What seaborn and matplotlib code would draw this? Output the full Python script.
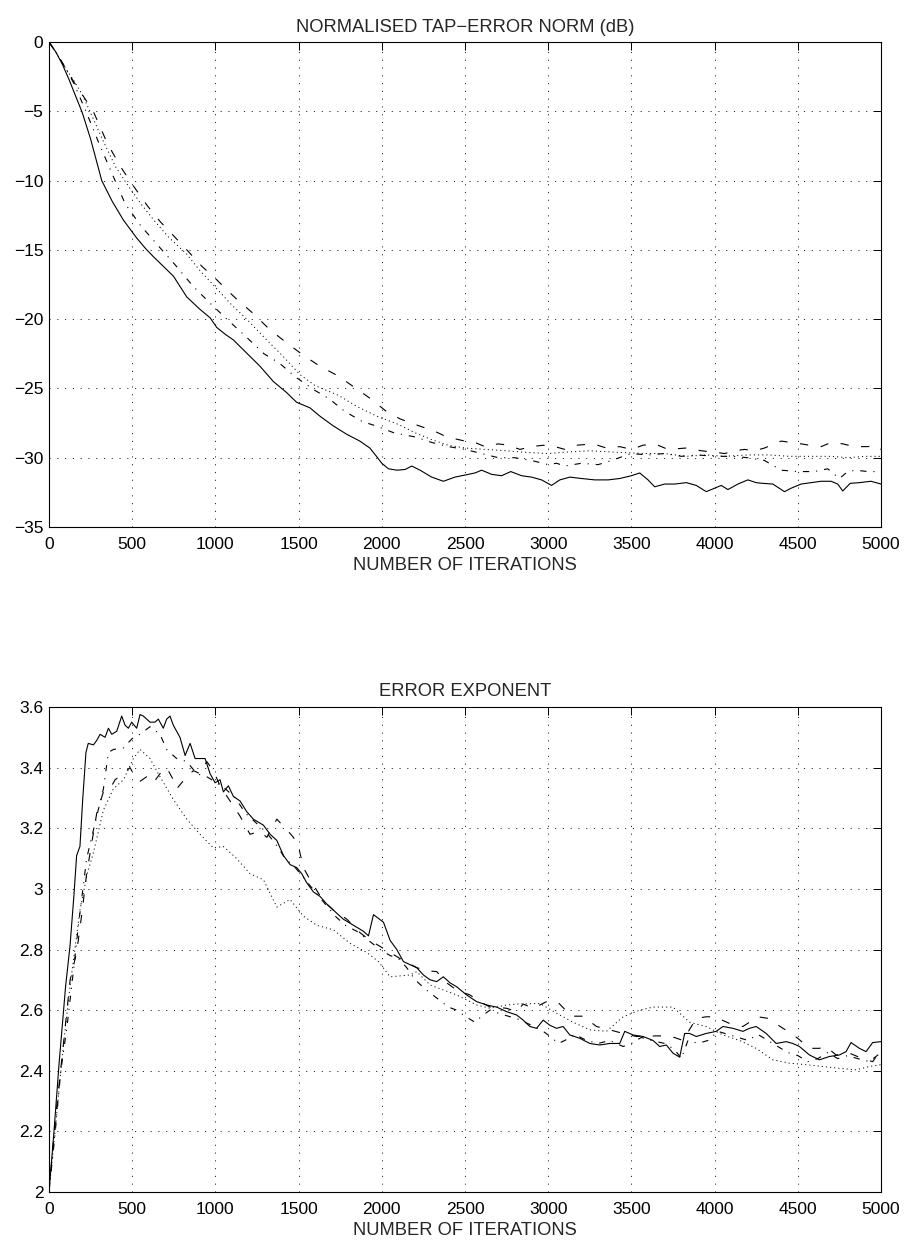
import matplotlib
matplotlib.use("Agg")
import matplotlib.pyplot as plt
import seaborn as sns
import pandas as pd

# ---- Normalised tap-error norm (dB) ----
tap_solid_it = [0, 40, 80, 120, 160, 200, 250, 317, 380, 447, 528, 580, 628, 688, 748, 828, 908, 968,
                1008, 1060, 1108, 1188, 1268, 1348, 1428, 1488, 1568, 1628, 1708, 1788, 1868, 1928, 1968,
                2000, 2040, 2090, 2140, 2180, 2230, 2300, 2370, 2440, 2500, 2560, 2600, 2660, 2720, 2775,
                2840, 2900, 2960, 3020, 3070, 3130, 3200, 3280, 3360, 3430, 3500, 3550, 3600, 3640, 3700,
                3760, 3830, 3890, 3950, 4000, 4040, 4080, 4140, 4200, 4250, 4290, 4350, 4420, 4460, 4520,
                4580, 4640, 4700, 4740, 4770, 4815, 4870, 4940, 5000]
tap_solid_db = [0, -0.7, -1.6, -2.7, -3.9, -5.1, -7.0, -10.0, -11.5, -12.85, -14.16, -14.9, -15.5, -16.2,
                -16.9, -18.4, -19.3, -19.9, -20.6, -21.1, -21.5, -22.45, -23.4, -24.5, -25.3, -26.0, -26.4,
                -27.0, -27.7, -28.3, -28.8, -29.3, -29.9, -30.4, -30.8, -30.9, -30.85, -30.6, -30.9, -31.4,
                -31.7, -31.4, -31.25, -31.1, -30.9, -31.2, -31.3, -31.0, -31.3, -31.4, -31.6, -32.0, -31.6,
                -31.4, -31.5, -31.6, -31.6, -31.5, -31.3, -31.1, -31.6, -32.1, -31.9, -31.9, -31.8, -32.0,
                -32.45, -32.2, -32.0, -32.3, -31.9, -31.6, -31.8, -31.85, -31.9, -32.45, -32.2, -31.9, -31.8,
                -31.7, -31.7, -31.9, -32.4, -31.85, -31.8, -31.7, -31.9]

tap_dashdot_it = [0, 50, 100, 150, 222, 300, 397, 458, 552, 652, 758, 864, 968, 1078, 1178, 1292, 1384,
                  1484, 1598, 1684, 1778, 1884, 1964, 2072, 2200, 2300, 2400, 2500, 2600, 2700, 2800, 2900,
                  3000, 3050, 3100, 3200, 3300, 3380, 3450, 3500, 3600, 3700, 3800, 3900, 4000, 4100, 4200,
                  4300, 4400, 4500, 4600, 4680, 4750, 4800, 4850, 4920, 5000]
tap_dashdot_db = [0, -0.9, -1.9, -3.0, -5.0, -7.3, -10.0, -11.68, -13.27, -14.64, -16.08, -17.6, -18.85,
                  -20.1, -21.2, -22.5, -23.17, -24.2, -25.14, -25.75, -26.66, -27.4, -27.7, -28.2, -28.5,
                  -28.9, -29.2, -29.4, -29.7, -30.0, -30.0, -30.2, -30.5, -30.4, -30.6, -30.4, -30.5, -30.2,
                  -29.9, -29.7, -29.8, -29.7, -29.9, -29.8, -29.9, -29.9, -30.0, -30.2, -30.9, -31.0, -31.0,
                  -30.8, -31.5, -31.0, -30.9, -31.0, -31.0]

tap_dotted_it = [0, 50, 100, 150, 200, 246, 320, 400, 477, 560, 640, 720, 827, 900, 1000, 1100, 1188, 1300,
                 1400, 1508, 1600, 1740, 1850, 1970, 2100, 2200, 2300, 2400, 2500, 2620, 2750, 2850, 3000,
                 3100, 3250, 3400, 3590, 3700, 3830, 3950, 4060, 4200, 4330, 4450, 4570, 4700, 4800, 4900,
                 5000]
tap_dotted_db = [0, -0.9, -1.9, -2.8, -3.8, -5.0, -7.0, -9.0, -10.4, -11.8, -13.0, -14.1, -15.3, -16.4,
                 -17.7, -19.0, -20.0, -21.4, -22.6, -24.0, -24.8, -25.5, -26.3, -27.0, -27.6, -28.2, -28.7,
                 -29.1, -29.3, -29.4, -29.5, -29.6, -29.7, -29.6, -29.5, -29.6, -29.7, -29.7, -29.9, -29.8,
                 -29.9, -29.8, -29.8, -29.9, -29.9, -29.9, -30.0, -29.9, -29.9]

tap_dashed_it = [0, 50, 100, 150, 200, 266, 350, 430, 508, 590, 668, 750, 828, 920, 1008, 1070, 1128, 1228,
                 1328, 1438, 1528, 1628, 1738, 1828, 1928, 2028, 2110, 2200, 2320, 2390, 2500, 2560, 2620,
                 2700, 2760, 2830, 2900, 2970, 3040, 3100, 3170, 3270, 3350, 3430, 3500, 3570, 3640, 3720,
                 3830, 3920, 4000, 4060, 4120, 4180, 4240, 4300, 4360, 4400, 4460, 4520, 4570, 4640, 4700,
                 4770, 4840, 4920, 4970, 5000]
tap_dashed_db = [0, -0.9, -1.9, -2.9, -3.8, -5.0, -7.3, -9.0, -10.4, -11.8, -12.96, -14.0, -15.0, -16.2,
                 -17.16, -17.9, -18.56, -19.6, -20.77, -21.8, -22.6, -23.4, -24.1, -24.86, -25.7, -26.66,
                 -27.2, -27.6, -28.1, -28.5, -28.8, -28.9, -29.2, -29.0, -29.1, -29.4, -29.2, -29.1, -29.2,
                 -29.4, -29.1, -29.0, -29.3, -29.2, -29.4, -29.1, -29.0, -29.4, -29.3, -29.5, -29.6, -29.7,
                 -29.5, -29.4, -29.5, -29.3, -29.0, -28.8, -28.9, -29.0, -29.1, -29.2, -28.9, -29.0, -29.2,
                 -29.2, -29.1, -29.4]

# ---- Error exponent ----
exp_solid_it = [0, 30, 60, 100, 126, 150, 166, 186, 202, 222, 236, 267, 287, 307, 337, 357, 377, 407, 437,
                457, 477, 497, 527, 547, 567, 607, 637, 657, 687, 707, 727, 747, 787, 818, 848, 878, 908,
                938, 968, 998, 1028, 1048, 1078, 1108, 1148, 1188, 1228, 1289, 1329, 1369, 1409, 1449, 1489,
                1519, 1549, 1589, 1629, 1669, 1709, 1769, 1830, 1890, 1920, 1950, 2010, 2050, 2090, 2130,
                2170, 2210, 2250, 2290, 2330, 2370, 2410, 2450, 2510, 2570, 2630, 2690, 2750, 2810, 2850,
                2890, 2930, 2970, 3010, 3050, 3090, 3130, 3190, 3250, 3310, 3370, 3430, 3460, 3510, 3570,
                3630, 3670, 3710, 3750, 3790, 3820, 3850, 3890, 3950, 4010, 4050, 4110, 4170, 4210, 4250,
                4310, 4370, 4430, 4470, 4510, 4570, 4630, 4690, 4750, 4790, 4820, 4870, 4910, 4950, 5000]
exp_solid_val = [2.0, 2.2, 2.42, 2.68, 2.81, 2.98, 3.11, 3.14, 3.29, 3.45, 3.48, 3.475, 3.49, 3.51, 3.50,
                 3.53, 3.51, 3.52, 3.57, 3.54, 3.53, 3.55, 3.53, 3.575, 3.57, 3.55, 3.55, 3.56, 3.53, 3.56,
                 3.57, 3.54, 3.50, 3.44, 3.48, 3.43, 3.43, 3.43, 3.38, 3.35, 3.36, 3.32, 3.34, 3.305, 3.29,
                 3.255, 3.23, 3.21, 3.18, 3.16, 3.11, 3.08, 3.07, 3.05, 3.02, 2.99, 2.975, 2.95, 2.93, 2.90,
                 2.88, 2.86, 2.845, 2.915, 2.89, 2.83, 2.80, 2.76, 2.75, 2.74, 2.716, 2.70, 2.694, 2.71,
                 2.69, 2.677, 2.65, 2.628, 2.617, 2.61, 2.595, 2.584, 2.567, 2.546, 2.54, 2.567, 2.55, 2.54,
                 2.546, 2.518, 2.507, 2.49, 2.485, 2.49, 2.49, 2.53, 2.518, 2.513, 2.50, 2.48, 2.485, 2.458,
                 2.445, 2.523, 2.523, 2.513, 2.523, 2.53, 2.546, 2.54, 2.53, 2.54, 2.546, 2.523, 2.49, 2.496,
                 2.49, 2.48, 2.452, 2.436, 2.447, 2.452, 2.463, 2.493, 2.474, 2.463, 2.493, 2.496]

exp_dashdot_it = [0, 36, 71, 107, 147, 177, 226, 287, 327, 357, 387, 447, 507, 547, 607, 667, 707, 767, 828,
                  888, 948, 1008, 1060, 1120, 1180, 1240, 1300, 1360, 1420, 1480, 1540, 1600, 1660, 1720,
                  1780, 1850, 1920, 1990, 2050, 2100, 2150, 2200, 2260, 2330, 2400, 2450, 2500, 2560, 2600,
                  2650, 2700, 2760, 2820, 2900, 2970, 3020, 3060, 3100, 3160, 3230, 3300, 3370, 3450, 3500,
                  3560, 3620, 3700, 3760, 3800, 3840, 3900, 3960, 4020, 4080, 4140, 4200, 4260, 4320, 4380,
                  4440, 4500, 4560, 4620, 4680, 4740, 4800, 4860, 4930, 5000]
exp_dashdot_val = [2.0, 2.19, 2.40, 2.54, 2.73, 2.88, 3.10, 3.24, 3.33, 3.45, 3.46, 3.465, 3.50, 3.51,
                   3.535, 3.51, 3.46, 3.43, 3.42, 3.38, 3.37, 3.35, 3.33, 3.30, 3.25, 3.22, 3.19, 3.15,
                   3.10, 3.07, 3.03, 2.99, 2.95, 2.91, 2.88, 2.86, 2.83, 2.80, 2.78, 2.77, 2.74, 2.70, 2.67,
                   2.64, 2.61, 2.60, 2.58, 2.56, 2.58, 2.60, 2.59, 2.58, 2.57, 2.55, 2.53, 2.51, 2.49, 2.50,
                   2.52, 2.50, 2.49, 2.50, 2.48, 2.49, 2.51, 2.50, 2.49, 2.47, 2.44, 2.50, 2.49, 2.50, 2.53,
                   2.52, 2.51, 2.50, 2.52, 2.50, 2.48, 2.46, 2.45, 2.43, 2.44, 2.46, 2.44, 2.45, 2.44, 2.43,
                   2.46]

exp_dotted_it = [0, 40, 80, 120, 160, 186, 230, 267, 327, 387, 447, 507, 547, 607, 667, 747, 828, 908, 988,
                 1048, 1128, 1208, 1289, 1369, 1449, 1529, 1609, 1709, 1810, 1910, 1980, 2050, 2170, 2210,
                 2290, 2450, 2570, 2650, 2750, 2810, 2950, 3050, 3150, 3250, 3350, 3450, 3550, 3630, 3750,
                 3850, 3950, 4050, 4150, 4250, 4350, 4450, 4550, 4650, 4750, 4850, 4930, 5000]
exp_dotted_val = [2.0, 2.22, 2.45, 2.65, 2.82, 2.93, 3.05, 3.12, 3.26, 3.33, 3.36, 3.43, 3.46, 3.43, 3.37,
                  3.295, 3.23, 3.18, 3.135, 3.14, 3.10, 3.05, 3.03, 2.94, 2.965, 2.91, 2.88, 2.865, 2.82,
                  2.79, 2.76, 2.71, 2.716, 2.727, 2.683, 2.65, 2.617, 2.606, 2.617, 2.62, 2.622, 2.59, 2.56,
                  2.535, 2.53, 2.578, 2.60, 2.61, 2.61, 2.56, 2.546, 2.518, 2.50, 2.474, 2.436, 2.425, 2.42,
                  2.414, 2.408, 2.403, 2.414, 2.42]

exp_dashed_it = [0, 42, 87, 127, 166, 198, 226, 287, 327, 367, 397, 447, 487, 507, 547, 587, 627, 667, 707,
                 747, 767, 828, 868, 908, 948, 988, 1028, 1088, 1148, 1208, 1268, 1309, 1369, 1429, 1469,
                 1499, 1529, 1559, 1609, 1649, 1709, 1790, 1870, 1930, 1990, 2050, 2110, 2210, 2270, 2330,
                 2390, 2450, 2530, 2590, 2650, 2690, 2750, 2810, 2850, 2910, 2990, 3060, 3140, 3210, 3290,
                 3370, 3450, 3530, 3650, 3730, 3810, 3890, 3950, 4000, 4090, 4170, 4260, 4320, 4380, 4440,
                 4500, 4570, 4630, 4670, 4730, 4810, 4890, 4950, 5000]
exp_dashed_val = [2.0, 2.26, 2.49, 2.70, 2.79, 2.92, 3.05, 3.25, 3.32, 3.33, 3.36, 3.38, 3.40, 3.38, 3.355,
                  3.37, 3.35, 3.38, 3.40, 3.36, 3.33, 3.37, 3.39, 3.38, 3.42, 3.39, 3.34, 3.29, 3.24, 3.18,
                  3.19, 3.17, 3.23, 3.195, 3.17, 3.14, 3.07, 3.04, 2.995, 2.96, 2.93, 2.90, 2.855, 2.83,
                  2.81, 2.79, 2.77, 2.74, 2.73, 2.727, 2.69, 2.666, 2.65, 2.628, 2.61, 2.61, 2.606, 2.595,
                  2.62, 2.606, 2.628, 2.625, 2.58, 2.58, 2.546, 2.535, 2.523, 2.513, 2.515, 2.515, 2.50,
                  2.573, 2.578, 2.578, 2.556, 2.546, 2.578, 2.573, 2.551, 2.53, 2.507, 2.474, 2.474, 2.48,
                  2.452, 2.458, 2.44, 2.43, 2.469]

x_ticks = list(range(0, 5001, 500))
tap_ticks = [0, -5, -10, -15, -20, -25, -30, -35]
exp_ticks = [2.0, 2.2, 2.4, 2.6, 2.8, 3.0, 3.2, 3.4, 3.6]
exp_tick_labels = ["2", "2.2", "2.4", "2.6", "2.8", "3", "3.2", "3.4", "3.6"]

sns.set_style("white")
plt.rcParams["font.family"] = ["Liberation Sans", "DejaVu Sans"]
plt.rcParams["lines.scale_dashes"] = False
plt.rcParams["axes.unicode_minus"] = True

STYLES = {
    "solid": dict(linestyle="-", linewidth=0.8),
    "dashed": dict(linestyle=(0, (6, 9)), linewidth=0.8),
    "dotted": dict(linestyle=(0, (0.8, 2.2)), linewidth=0.7),
    "dashdot": dict(linestyle=(0, (4.5, 5, 0.8, 5)), linewidth=0.8),
}

fig = plt.figure(figsize=(9.06, 12.4), dpi=100)
W, H = 906.0, 1240.0
ax_top = fig.add_axes([49 / W, 1 - 527 / H, 832 / W, 485 / H])
ax_bot = fig.add_axes([49 / W, 1 - 1192 / H, 832 / W, 485 / H])


def draw(ax, it, val, style):
    df = pd.DataFrame({"it": it, "val": val})
    sns.lineplot(data=df, x="it", y="val", ax=ax, color="black", sort=False,
                 estimator=None, **STYLES[style])


draw(ax_top, tap_dotted_it, tap_dotted_db, "dotted")
draw(ax_top, tap_dashdot_it, tap_dashdot_db, "dashdot")
draw(ax_top, tap_dashed_it, tap_dashed_db, "dashed")
draw(ax_top, tap_solid_it, tap_solid_db, "solid")

draw(ax_bot, exp_dotted_it, exp_dotted_val, "dotted")
draw(ax_bot, exp_dashdot_it, exp_dashdot_val, "dashdot")
draw(ax_bot, exp_dashed_it, exp_dashed_val, "dashed")
draw(ax_bot, exp_solid_it, exp_solid_val, "solid")

TICK_FS = 12.5
LABEL_FS = 13.2
for ax in (ax_top, ax_bot):
    ax.set_xlim(0, 5000)
    ax.set_xticks(x_ticks)
    ax.set_xticklabels([str(t) for t in x_ticks])
    ax.grid(True, color="black", linestyle=(0, (0.8, 4.8)), linewidth=0.6)
    ax.tick_params(direction="in", top=True, right=True, length=6, width=0.7,
                   labelsize=TICK_FS, colors="black")
    ax.tick_params(axis="x", pad=7.5)
    ax.tick_params(axis="y", pad=4)
    for s in ax.spines.values():
        s.set_color("black")
        s.set_linewidth(0.8)
    ax.set_xlabel("NUMBER OF ITERATIONS", fontsize=LABEL_FS, labelpad=3)
    ax.set_ylabel("")

ax_top.set_ylim(-35, 0)
ax_top.set_yticks(tap_ticks)
ax_top.set_yticklabels([str(t).replace("-", "\u2212") for t in tap_ticks])
ax_top.set_title("NORMALISED TAP\u2212ERROR NORM (dB)", fontsize=LABEL_FS, pad=7)

ax_bot.set_ylim(2.0, 3.6)
ax_bot.set_yticks(exp_ticks)
ax_bot.set_yticklabels(exp_tick_labels)
ax_bot.set_title("ERROR EXPONENT", fontsize=LABEL_FS, pad=8)

fig.savefig("out.png", dpi=100, facecolor="white")
